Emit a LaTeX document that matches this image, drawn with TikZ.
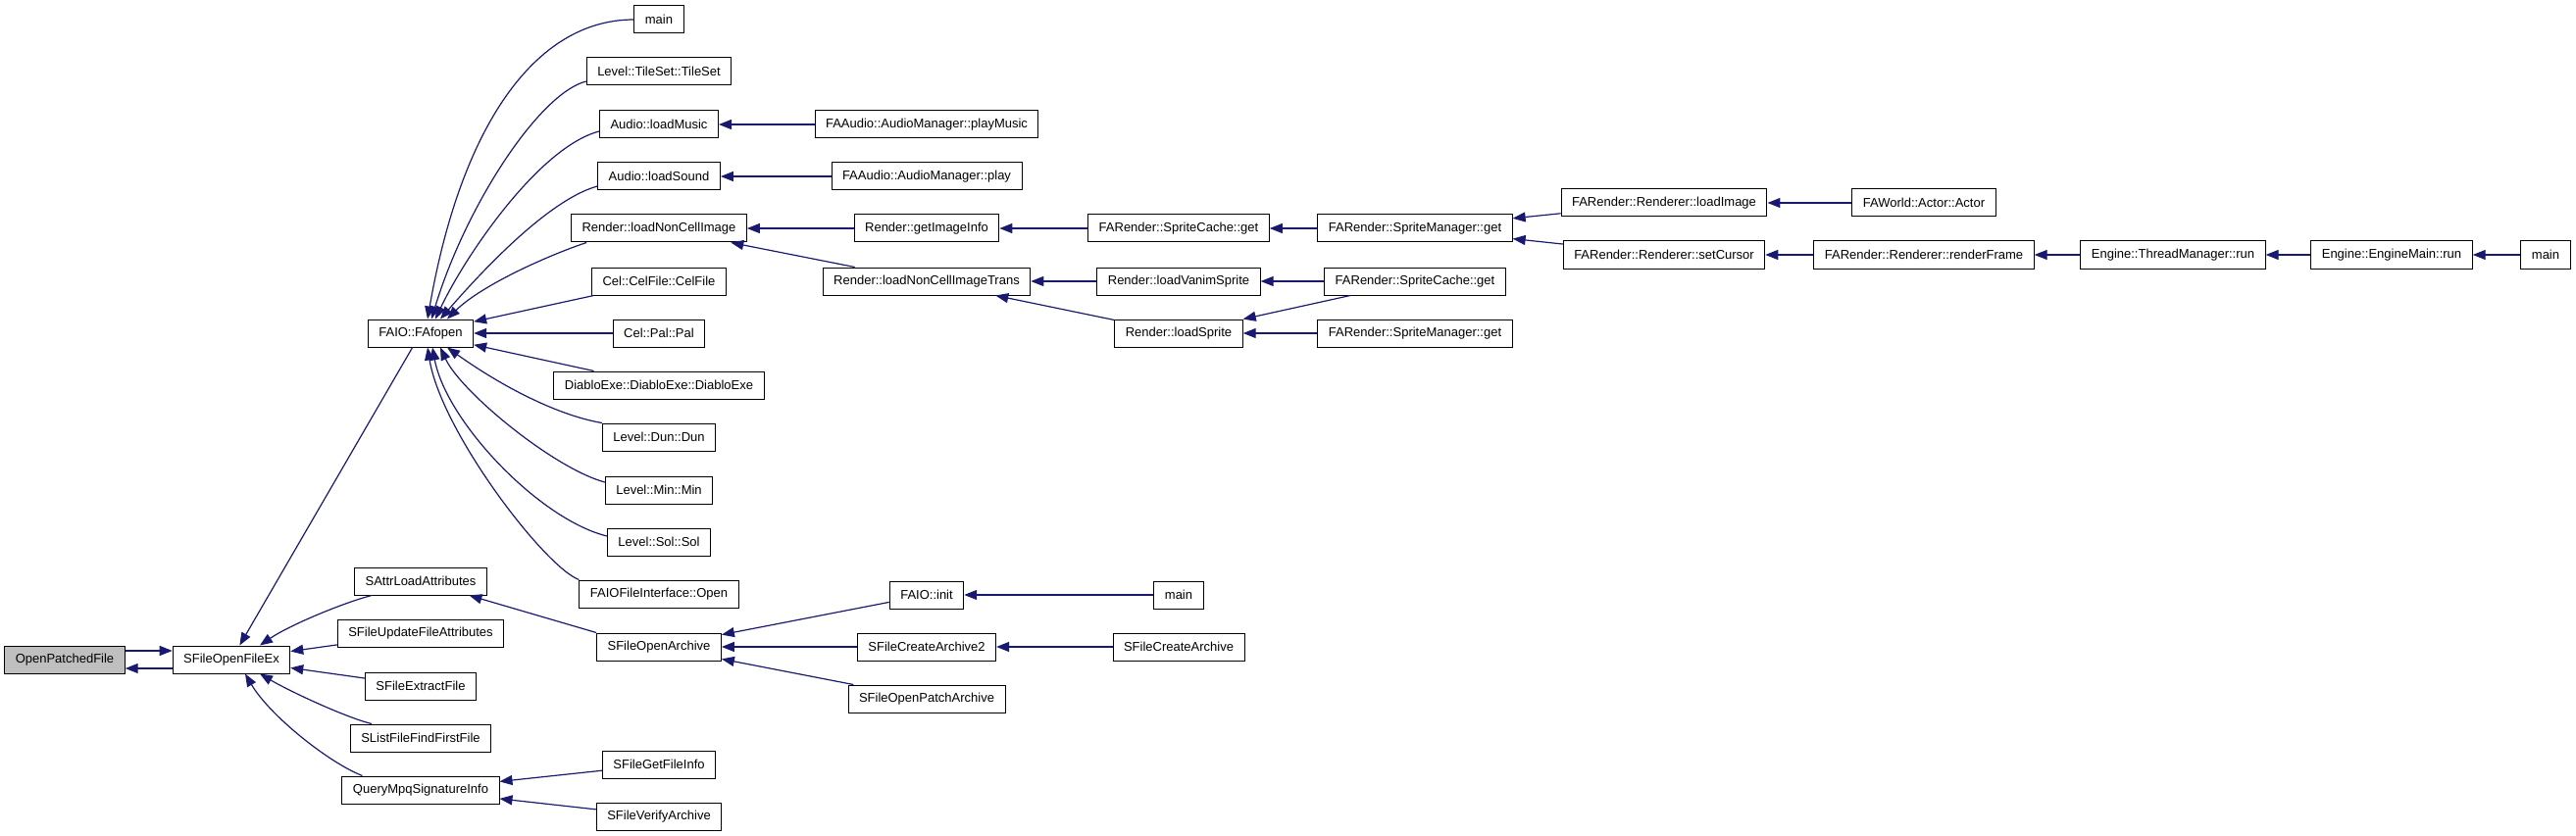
\documentclass[tikz,border=0pt]{standalone}
\usepackage{fontspec}
\setmainfont{Liberation Sans}
\usetikzlibrary{arrows.meta}
\definecolor{edgeblue}{RGB}{25,25,112}

\begin{document}
\begin{tikzpicture}[x=1pt, y=-1pt,
    fn/.style={draw=black, line width=1pt, fill=white, minimum height=28pt,
        inner xsep=11pt, inner ysep=0pt, font=\fontsize{13pt}{15pt}\selectfont},
    rootfn/.style={fn, fill=gray!50},
    call/.style={draw=edgeblue, line width=1.2pt, -{Triangle[length=13pt,width=10pt]}}]
    \useasboundingbox (0,0) rectangle (2627,853);

    % Nodes
    \node[rootfn] (openpatchedfile) at (66,673) {OpenPatchedFile};
    \node[fn] (sfileopenfileex) at (236,673) {SFileOpenFileEx};

    \node[fn] (fafopen) at (429,340) {FAIO::FAfopen};
    \node[fn] (sattrloadattributes) at (429,593) {SAttrLoadAttributes};
    \node[fn] (sfileupdatefileattributes) at (429,646) {SFileUpdateFileAttributes};
    \node[fn] (sfileextractfile) at (429,700) {SFileExtractFile};
    \node[fn] (slistfilefindfirstfile) at (429,753) {SListFileFindFirstFile};
    \node[fn] (querympqsignatureinfo) at (429,806) {QueryMpqSignatureInfo};

    \node[fn] (main) at (672,20) {main};
    \node[fn] (tileset) at (672,73) {Level::TileSet::TileSet};
    \node[fn] (loadmusic) at (672,127) {Audio::loadMusic};
    \node[fn] (loadsound) at (672,180) {Audio::loadSound};
    \node[fn] (loadnoncellimage) at (672,233) {Render::loadNonCellImage};
    \node[fn] (celfile) at (672,287) {Cel::CelFile::CelFile};
    \node[fn] (pal) at (672,340) {Cel::Pal::Pal};
    \node[fn] (diabloexe) at (672,393) {DiabloExe::DiabloExe::DiabloExe};
    \node[fn] (dun) at (672,446) {Level::Dun::Dun};
    \node[fn] (min) at (672,500) {Level::Min::Min};
    \node[fn] (sol) at (672,553) {Level::Sol::Sol};
    \node[fn] (faiofileinterface) at (672,606) {FAIOFileInterface::Open};
    \node[fn] (sfileopenarchive) at (672,660) {SFileOpenArchive};
    \node[fn] (sfilegetfileinfo) at (672,780) {SFileGetFileInfo};
    \node[fn] (sfileverifyarchive) at (672,833) {SFileVerifyArchive};

    \node[fn] (playmusic) at (945,127) {FAAudio::AudioManager::playMusic};
    \node[fn] (play) at (945,180) {FAAudio::AudioManager::play};
    \node[fn] (getimageinfo) at (945,233) {Render::getImageInfo};
    \node[fn] (loadnoncellimagetrans) at (945,287) {Render::loadNonCellImageTrans};
    \node[fn] (faioinit) at (945,607) {FAIO::init};
    \node[fn] (sfilecreatearchive2) at (945,660) {SFileCreateArchive2};
    \node[fn] (sfileopenpatcharchive) at (945,713) {SFileOpenPatchArchive};

    \node[fn] (spritecacheget) at (1202,233) {FARender::SpriteCache::get};
    \node[fn] (loadvanimsprite) at (1202,287) {Render::loadVanimSprite};
    \node[fn] (loadsprite) at (1202,340) {Render::loadSprite};
    \node[fn] (mainb) at (1202,607) {main};
    \node[fn] (sfilecreatearchive) at (1202,660) {SFileCreateArchive};

    \node[fn] (spritemanagerget) at (1443,233) {FARender::SpriteManager::get};
    \node[fn] (spritecachegetb) at (1443,287) {FARender::SpriteCache::get};
    \node[fn] (spritemanagergetb) at (1443,340) {FARender::SpriteManager::get};

    \node[fn] (loadimage) at (1697,207) {FARender::Renderer::loadImage};
    \node[fn] (setcursor) at (1697,260) {FARender::Renderer::setCursor};
    \node[fn] (actor) at (1962,207) {FAWorld::Actor::Actor};
    \node[fn] (renderframe) at (1962,260) {FARender::Renderer::renderFrame};
    \node[fn] (threadmanagerrun) at (2216,260) {Engine::ThreadManager::run};
    \node[fn] (enginemainrun) at (2439,260) {Engine::EngineMain::run};
    \node[fn] (mainc) at (2596,260) {main};

    % Edges
    \draw[call] ([yshift=9pt]openpatchedfile.east) -- ([yshift=9pt]sfileopenfileex.west);
    \draw[call] ([yshift=-9pt]sfileopenfileex.west) -- ([yshift=-9pt]openpatchedfile.east);

    \draw[call] (fafopen) -- (sfileopenfileex);
    \draw[call] ([xshift=18pt]sattrloadattributes.south west) .. controls (350,615) and (295,638) .. ([xshift=29pt]sfileopenfileex.north);
    \draw[call] (sfileupdatefileattributes) -- (sfileopenfileex);
    \draw[call] (sfileextractfile) -- (sfileopenfileex);
    \draw[call] ([xshift=22pt]slistfilefindfirstfile.north west) .. controls (350,731) and (295,705) .. ([xshift=29pt]sfileopenfileex.south);
    \draw[call] ([xshift=21pt]querympqsignatureinfo.north west) .. controls (335,778) and (275,730) .. ([xshift=14pt]sfileopenfileex.south);

    \draw[call] (main.west) .. controls (545,20) and (470,130) .. ([xshift=7pt]fafopen.north);
    \draw[call] ([yshift=-10pt]tileset.west) .. controls (550,95) and (475,210) .. ([xshift=11pt]fafopen.north);
    \draw[call] ([yshift=-7pt]loadmusic.west) .. controls (550,150) and (475,260) .. ([xshift=15pt]fafopen.north);
    \draw[call] ([yshift=-10pt]loadsound.west) .. controls (555,205) and (480,290) .. ([xshift=20pt]fafopen.north);
    \draw[call] ([xshift=16pt]loadnoncellimage.south west) .. controls (555,262) and (490,292) .. ([xshift=27pt]fafopen.north);
    \draw[call] (celfile) -- (fafopen);
    \draw[call] (pal) -- (fafopen);
    \draw[call] (diabloexe) -- (fafopen);
    \draw[call] (dun.north west) .. controls (575,425) and (520,400) .. ([xshift=27pt]fafopen.south);
    \draw[call] ([yshift=8pt]min.west) .. controls (565,478) and (470,400) .. ([xshift=20pt]fafopen.south);
    \draw[call] ([yshift=6pt]sol.west) .. controls (550,530) and (455,430) .. ([xshift=12pt]fafopen.south);
    \draw[call] (faiofileinterface.north west) .. controls (555,578) and (450,440) .. ([xshift=7pt]fafopen.south);

    \draw[call] (sfileopenarchive.north west) -- (sattrloadattributes);
    \draw[call] (sfilegetfileinfo) -- (querympqsignatureinfo);
    \draw[call] (sfileverifyarchive) -- (querympqsignatureinfo);

    \draw[call] (playmusic) -- (loadmusic);
    \draw[call] (play) -- (loadsound);
    \draw[call] (getimageinfo) -- (loadnoncellimage);
    \draw[call] (loadnoncellimagetrans) -- (loadnoncellimage);
    \draw[call] (faioinit) -- (sfileopenarchive);
    \draw[call] (sfilecreatearchive2) -- (sfileopenarchive);
    \draw[call] (sfileopenpatcharchive) -- (sfileopenarchive);

    \draw[call] (spritecacheget) -- (getimageinfo);
    \draw[call] (loadvanimsprite) -- (loadnoncellimagetrans);
    \draw[call] (loadsprite) -- (loadnoncellimagetrans);
    \draw[call] (mainb) -- (faioinit);
    \draw[call] (sfilecreatearchive) -- (sfilecreatearchive2);

    \draw[call] (spritemanagerget) -- (spritecacheget);
    \draw[call] (spritecachegetb) -- (loadvanimsprite);
    \draw[call] (spritecachegetb) -- (loadsprite);
    \draw[call] (spritemanagergetb) -- (loadsprite);

    \draw[call] (loadimage) -- (spritemanagerget);
    \draw[call] (setcursor) -- (spritemanagerget);
    \draw[call] (actor) -- (loadimage);
    \draw[call] (renderframe) -- (setcursor);
    \draw[call] (threadmanagerrun) -- (renderframe);
    \draw[call] (enginemainrun) -- (threadmanagerrun);
    \draw[call] (mainc) -- (enginemainrun);
\end{tikzpicture}
\end{document}
